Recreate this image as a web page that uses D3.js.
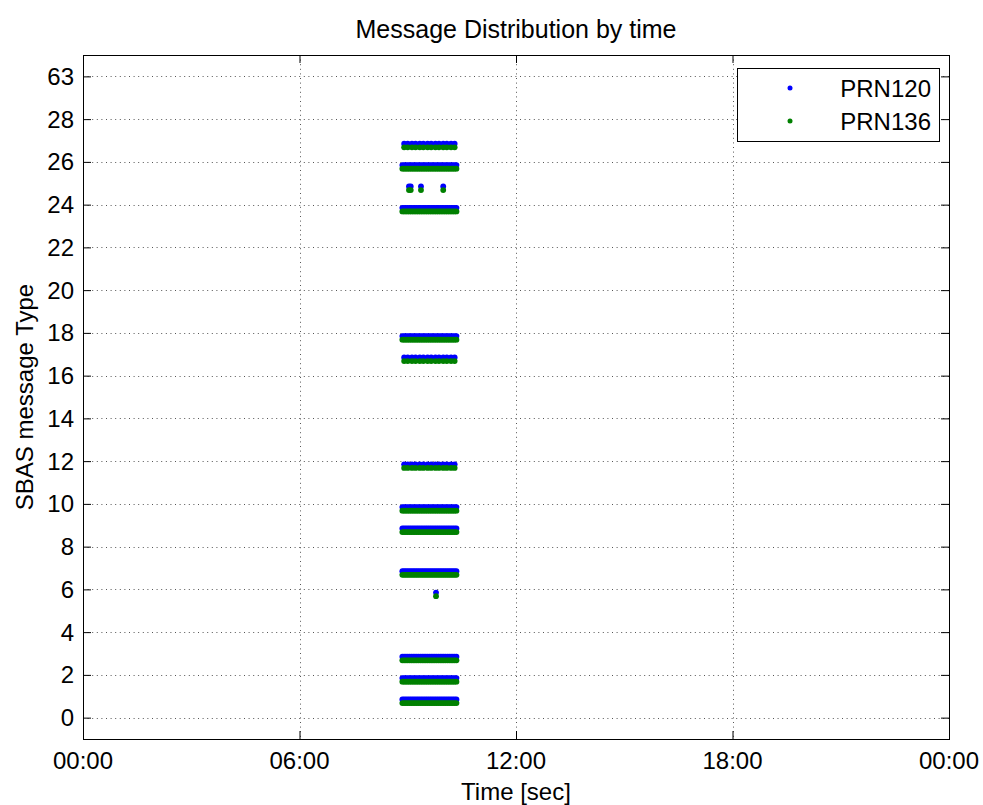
<!DOCTYPE html>
<html>
<head>
<meta charset="utf-8">
<script src="https://cdn.jsdelivr.net/npm/d3@7"></script>
<style>
  html, body { margin: 0; padding: 0; background: #fff; }
  text { font-family: "Liberation Sans", Arial, sans-serif; fill: #000; }
</style>
</head>
<body>
<svg id="chart" width="983" height="805"></svg>
<script>
// ---- data ----
const chartTitle = "Message Distribution by time";
const xLabel = "Time [sec]";
const yLabel = "SBAS message Type";
const xTickValues = [0, 360, 720, 1080, 1440];           // minutes since midnight
const xTickLabels = ["00:00", "06:00", "12:00", "18:00", "00:00"];
const yTickValues = [0, 2, 4, 6, 8, 10, 12, 14, 16, 18, 20, 22, 24, 26, 28, 30];
const yTickLabels = ["0", "2", "4", "6", "8", "10", "12", "14", "16", "18", "20", "22", "24", "26", "28", "63"];
const seriesNames = ["PRN120", "PRN136"];
const seriesColors = ["#0000ff", "#008000"];
const seriesOffsets = [-0.15, -0.32];

// message arrival times (minutes since midnight) per message type
const denseTimes = [531, 534, 537, 540, 543, 546, 549, 552, 555, 558, 561, 564, 567, 570, 573, 576,
                    579, 582, 585, 588, 591, 594, 597, 600, 603, 606, 609, 612, 615, 618, 621];
const sparseTimes = [534, 540, 547, 553, 560, 566, 573, 579, 586, 592, 599, 605, 612, 618];
const type25Times = [542, 545, 562, 599];
const type6Times = [587];
const messageTypes = [1, 2, 3, 6, 7, 9, 10, 12, 17, 18, 24, 25, 26, 27];
const messageTimes = [denseTimes, denseTimes, denseTimes, type6Times, denseTimes, denseTimes, denseTimes,
                      sparseTimes, sparseTimes, denseTimes, denseTimes, type25Times, denseTimes, sparseTimes];

// ---- layout ----
const svg = d3.select("#chart");
const mLeft = 83, mRight = 949, mTop = 55, mBottom = 739;
const x = d3.scaleLinear().domain([0, 1440]).range([mLeft, mRight]);
const y = d3.scaleLinear().domain([-1, 31]).range([mBottom, mTop]);
const fs = 24;

// grid
const grid = svg.append("g").attr("stroke", "#555").attr("stroke-width", 1)
  .attr("stroke-dasharray", "1,3.6");
yTickValues.forEach(v => {
  grid.append("line").attr("x1", mLeft).attr("x2", mRight)
    .attr("y1", Math.round(y(v)) + 0.5).attr("y2", Math.round(y(v)) + 0.5);
});
xTickValues.forEach(v => {
  grid.append("line").attr("y1", mTop).attr("y2", mBottom)
    .attr("x1", Math.round(x(v)) + 0.5).attr("x2", Math.round(x(v)) + 0.5);
});

// axes (ticks inside, MATLAB-like)
const tickLen = 8;
const axL = svg.append("g").attr("transform", `translate(${mLeft},0)`)
  .call(d3.axisRight(y).tickValues(yTickValues).tickSize(tickLen).tickFormat(""));
const axR = svg.append("g").attr("transform", `translate(${mRight},0)`)
  .call(d3.axisLeft(y).tickValues(yTickValues).tickSize(tickLen).tickFormat(""));
const axB = svg.append("g").attr("transform", `translate(0,${mBottom})`)
  .call(d3.axisTop(x).tickValues(xTickValues).tickSize(tickLen).tickFormat(""));
const axT = svg.append("g").attr("transform", `translate(0,${mTop})`)
  .call(d3.axisBottom(x).tickValues(xTickValues).tickSize(tickLen).tickFormat(""));
[axL, axR, axB, axT].forEach(a => {
  a.select(".domain").remove();
  a.selectAll("line").attr("stroke", "#000");
});

// tick labels
svg.append("g").selectAll("text").data(yTickValues).join("text")
  .attr("x", mLeft - 9).attr("y", d => y(d)).attr("dy", "0.35em")
  .attr("text-anchor", "end").attr("font-size", fs)
  .text((d, i) => yTickLabels[i]);
svg.append("g").selectAll("text").data(xTickValues).join("text")
  .attr("x", d => x(d)).attr("y", mBottom + 30)
  .attr("text-anchor", "middle").attr("font-size", fs)
  .text((d, i) => xTickLabels[i]);

// frame
svg.append("rect").attr("x", mLeft + 0.5).attr("y", mTop + 0.5)
  .attr("width", mRight - mLeft).attr("height", mBottom - mTop)
  .attr("fill", "none").attr("stroke", "#000").attr("stroke-width", 1);

// data points
seriesNames.forEach((name, si) => {
  const pts = [];
  messageTypes.forEach((t, ti) => messageTimes[ti].forEach(tm => pts.push({ t, tm })));
  svg.append("g").attr("class", "series-" + name)
    .selectAll("circle").data(pts).join("circle")
    .attr("cx", d => x(d.tm))
    .attr("cy", d => y(d.t + seriesOffsets[si]))
    .attr("r", 2.9)
    .attr("fill", seriesColors[si]);
});

// legend
const lg = svg.append("g");
lg.append("rect").attr("x", 737.5).attr("y", 68.5).attr("width", 202).attr("height", 73)
  .attr("fill", "#fff").attr("stroke", "#000");
seriesNames.forEach((name, i) => {
  const cy = 88 + i * 33;
  lg.append("circle").attr("cx", 790).attr("cy", cy).attr("r", 2.5).attr("fill", seriesColors[i]);
  lg.append("text").attr("x", 931).attr("y", cy).attr("dy", "0.36em")
    .attr("text-anchor", "end").attr("font-size", fs).text(name);
});

// titles
svg.append("text").attr("x", (mLeft + mRight) / 2).attr("y", 38)
  .attr("text-anchor", "middle").attr("font-size", 25).text(chartTitle);
svg.append("text").attr("x", (mLeft + mRight) / 2).attr("y", 800)
  .attr("text-anchor", "middle").attr("font-size", fs).text(xLabel);
svg.append("text").attr("transform", `translate(33,${(mTop + mBottom) / 2}) rotate(-90)`)
  .attr("text-anchor", "middle").attr("font-size", fs).text(yLabel);
</script>
</body>
</html>
